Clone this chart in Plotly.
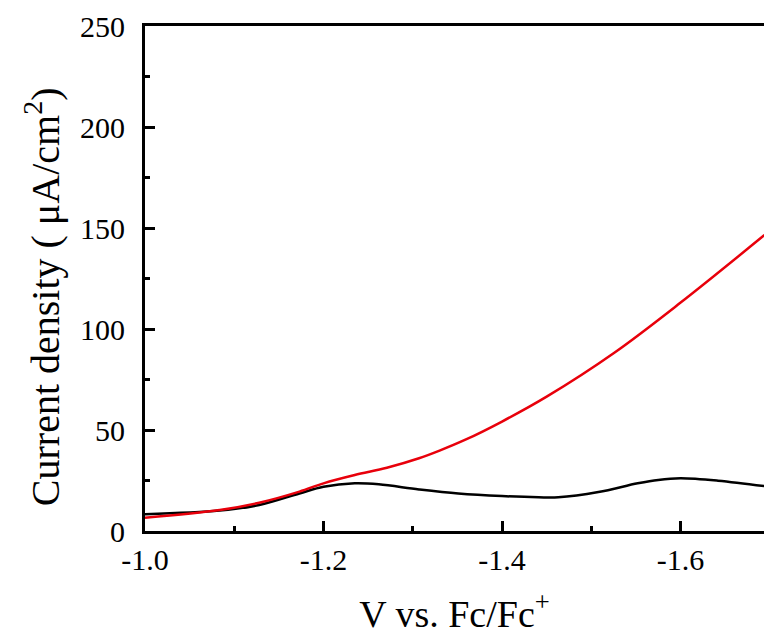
import plotly.graph_objects as go

black_v = [-1.0, -1.0837, -1.128, -1.173, -1.2, -1.235, -1.262, -1.307, -1.351, -1.4, -1.441, -1.463, -1.508, -1.552, -1.575, -1.6, -1.642, -1.694]
black_i = [8.3, 10.1, 12.9, 18.6, 21.9, 23.6, 23.1, 20.6, 18.6, 17.3, 16.7, 16.7, 19.3, 23.6, 25.3, 26.1, 24.9, 22.2]

red_v = [-1.0, -1.0837, -1.128, -1.173, -1.2, -1.235, -1.271, -1.307, -1.33, -1.359, -1.40, -1.45, -1.525, -1.599, -1.694]
red_i = [6.6, 10.4, 14.0, 19.5, 23.6, 27.7, 31.3, 36.0, 39.8, 45.2, 54.2, 66.5, 88.0, 112.7, 146.5]

x_ticks = [-1.0, -1.2, -1.4, -1.6]
x_labels = ["-1.0", "-1.2", "-1.4", "-1.6"]
x_minor = [-1.1, -1.3, -1.5, -1.7]
y_ticks = [0, 50, 100, 150, 200, 250]
y_labels = ["0", "50", "100", "150", "200", "250"]
y_minor = [25, 75, 125, 175, 225]

x_title = "V vs. Fc/Fc<sup>+</sup>"
y_title = "Current density ( μA/cm<sup>2</sup>)"

fig = go.Figure()
fig.add_trace(go.Scatter(x=black_v, y=black_i, mode="lines",
                         line=dict(color="black", width=2.5, shape="spline", smoothing=1.0)))
fig.add_trace(go.Scatter(x=red_v, y=red_i, mode="lines",
                         line=dict(color="#e8000b", width=2.5, shape="spline", smoothing=1.0)))

font_family = "Liberation Serif"
tick_font = dict(family=font_family, size=30, color="black")

fig.update_layout(
    width=764, height=635,
    margin=dict(l=145, r=0, t=26, b=104),
    paper_bgcolor="white", plot_bgcolor="white",
    showlegend=False,
    font=dict(family=font_family, color="black", size=30),
    xaxis=dict(
        range=[-1.0, -1.6935], autorange=False,
        tickmode="array", tickvals=x_ticks, ticktext=x_labels,
        ticks="inside", ticklen=10, tickwidth=3, tickcolor="black",
        minor=dict(tickmode="array", tickvals=x_minor, ticks="inside", ticklen=5, tickwidth=3, tickcolor="black"),
        showline=True, linewidth=3, linecolor="black", mirror=True,
        showgrid=False, zeroline=False,
        tickfont=tick_font,
        title=dict(text=x_title, font=dict(size=38, family=font_family), standoff=30),
    ),
    yaxis=dict(
        range=[0, 250], autorange=False,
        tickmode="array", tickvals=y_ticks, ticktext=y_labels,
        ticks="inside", ticklen=10, tickwidth=3, tickcolor="black",
        minor=dict(tickmode="array", tickvals=y_minor, ticks="inside", ticklen=5, tickwidth=3, tickcolor="black"),
        showline=True, linewidth=3, linecolor="black", mirror=False,
        showgrid=False, zeroline=False,
        tickfont=tick_font,
        ticklabelstandoff=11,
    ),
    annotations=[dict(
        text=y_title, textangle=-90, showarrow=False,
        xref="paper", yref="paper", x=0, y=0.463,
        xanchor="center", yanchor="middle", xshift=-103,
        font=dict(size=40, family=font_family, color="black"),
    )],
)

fig.write_html("out.html")
